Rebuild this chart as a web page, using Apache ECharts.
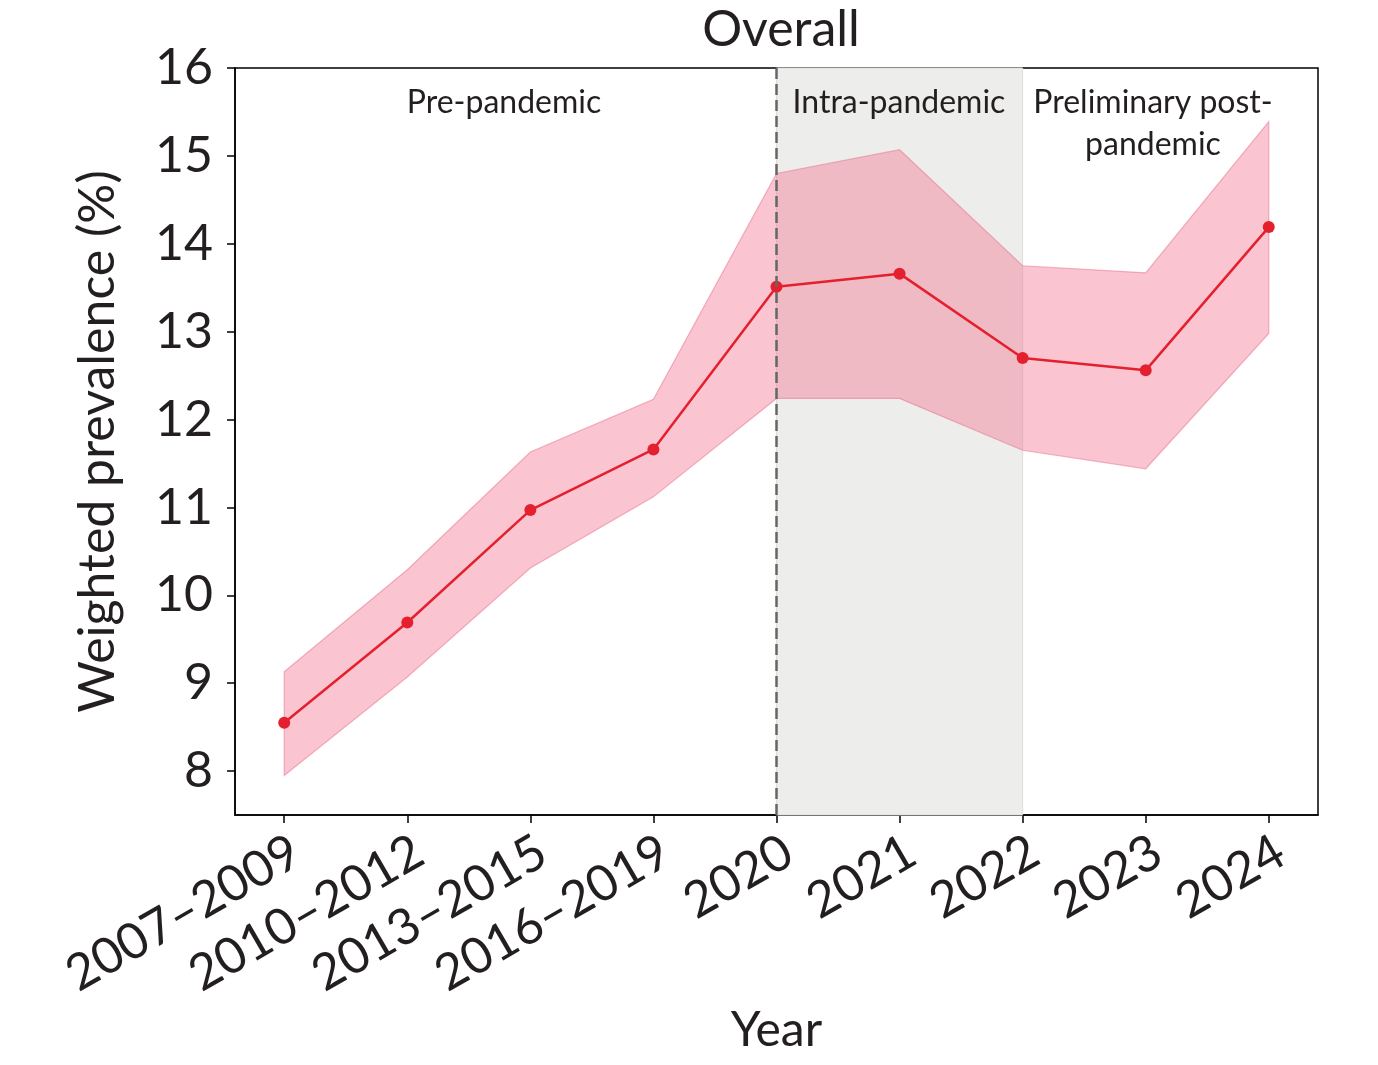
<!DOCTYPE html>
<html>
<head>
<meta charset="utf-8">
<script src="https://cdn.jsdelivr.net/npm/echarts@6/dist/echarts.min.js"></script>
<style>
  html, body { margin: 0; padding: 0; background: #fff; }
  #chart { width: 1378px; height: 1065px; }
</style>
</head>
<body>
<div id="chart"></div>
<script>
const categories = ['2007\u20132009', '2010\u20132012', '2013\u20132015', '2016\u20132019', '2020', '2021', '2022', '2023', '2024']
const prevalence = [8.55, 9.69, 10.97, 11.66, 13.51, 13.66, 12.70, 12.56, 14.19]
const upperCI = [9.13, 10.29, 11.63, 12.23, 14.80, 15.07, 13.75, 13.67, 15.39]
const lowerCI = [7.95, 9.07, 10.31, 11.12, 12.24, 12.24, 11.65, 11.44, 12.98]
const yTicks = [8, 9, 10, 11, 12, 13, 14, 15, 16]
const xTicks = categories.map((c, i) => i)
const intraStart = 4
const intraEnd = 6

const font = 'Lato'
const ink = '#231f20'

const myChart = echarts.init(document.getElementById('chart'))

const option = {
  backgroundColor: '#fff',
  animation: false,
  title: {
    text: 'Overall',
    left: 776,
    textAlign: 'center',
    top: 0,
    textStyle: { fontFamily: font, fontSize: 50, fontWeight: 'normal', color: ink }
  },
  grid: {
    left: 235, right: 60, top: 68, bottom: 250,
    show: true, borderColor: '#000', borderWidth: 1.5, backgroundColor: 'transparent'
  },
  xAxis: {
    type: 'value',
    min: -0.4,
    max: 8.4,
    name: 'Year',
    nameLocation: 'middle',
    nameGap: 192,
    nameTextStyle: { fontFamily: font, fontSize: 48, color: ink },
    axisLine: { show: true, onZero: false, lineStyle: { color: '#000', width: 1.5 } },
    axisTick: { show: true, length: 8, customValues: xTicks, lineStyle: { color: '#000', width: 1.5 } },
    axisLabel: {
      customValues: xTicks,
      rotate: 30,
      margin: 40,
      padding: [0, -14, 0, 0],
      fontFamily: font,
      fontSize: 50,
      color: ink,
      formatter: v => categories[Math.round(v)]
    },
    splitLine: { show: false }
  },
  yAxis: {
    type: 'value',
    min: 7.5,
    max: 16,
    name: 'Weighted prevalence (%)',
    nameLocation: 'middle',
    nameGap: 112,
    nameTextStyle: { fontFamily: font, fontSize: 50, color: ink },
    axisLine: { show: true, onZero: false, lineStyle: { color: '#000', width: 1.5 } },
    axisTick: { show: true, length: 8, customValues: yTicks, lineStyle: { color: '#000', width: 1.5 } },
    axisLabel: { customValues: yTicks, margin: 22, fontFamily: font, fontSize: 50, color: ink },
    splitLine: { show: false }
  },
  graphic: [
    { type: 'text', x: 504, y: 103, z: 100, style: { text: 'Pre-pandemic', font: '32px Lato', fill: ink, align: 'center', verticalAlign: 'middle' } },
    { type: 'text', x: 899, y: 103, z: 100, style: { text: 'Intra-pandemic', font: '32px Lato', fill: ink, align: 'center', verticalAlign: 'middle' } },
    { type: 'text', x: 1153, y: 103, z: 100, style: { text: 'Preliminary post-', font: '32px Lato', fill: ink, align: 'center', verticalAlign: 'middle' } },
    { type: 'text', x: 1153, y: 145, z: 100, style: { text: 'pandemic', font: '32px Lato', fill: ink, align: 'center', verticalAlign: 'middle' } }
  ],
  series: [
    {
      // gray intra-pandemic shading
      type: 'line',
      data: [],
      z: 1,
      silent: true,
      markArea: {
        silent: true,
        itemStyle: { color: '#ededeb', borderColor: '#dcdcdc', borderWidth: 1 },
        data: [[{ xAxis: intraStart }, { xAxis: intraEnd }]]
      }
    },
    {
      // confidence band
      type: 'custom',
      z: 2,
      silent: true,
      data: xTicks.map(i => [i, lowerCI[i], upperCI[i]]),
      renderItem: function (params, api) {
        if (params.dataIndex !== 0) return null
        const pts = []
        for (let i = 0; i < upperCI.length; i++) pts.push(api.coord([i, upperCI[i]]))
        for (let i = lowerCI.length - 1; i >= 0; i--) pts.push(api.coord([i, lowerCI[i]]))
        return {
          type: 'polygon',
          shape: { points: pts },
          style: { fill: 'rgba(242,110,138,0.4)', stroke: 'rgba(232,110,140,0.5)', lineWidth: 1.2 }
        }
      }
    },
    {
      type: 'line',
      z: 4,
      data: prevalence.map((v, i) => [i, v]),
      symbol: 'circle',
      symbolSize: 12,
      lineStyle: { color: '#e5202e', width: 2.5 },
      itemStyle: { color: '#e5202e' },
      markLine: {
        silent: true,
        symbol: 'none',
        label: { show: false },
        lineStyle: { color: '#666', type: [11, 5], width: 2.5 },
        data: [{ xAxis: intraStart }]
      }
    }
  ]
}

myChart.setOption(option)
</script>
</body>
</html>
